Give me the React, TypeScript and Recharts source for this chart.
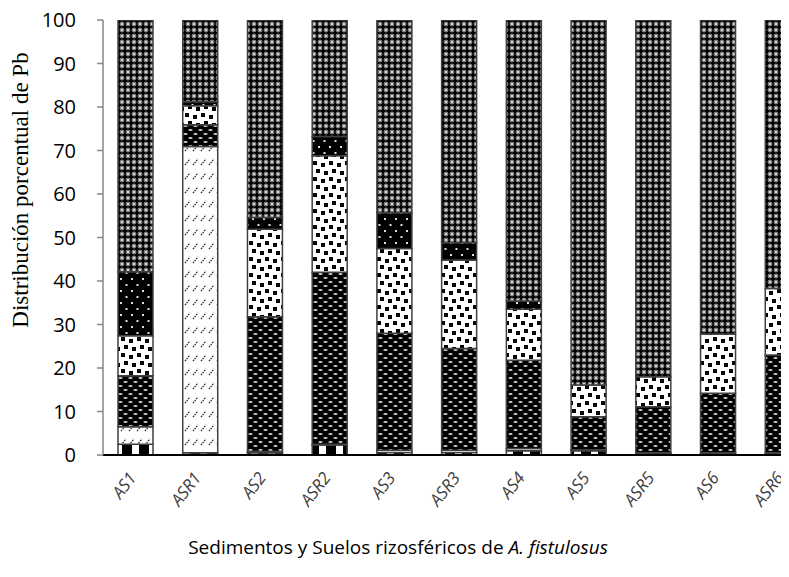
import React from 'react';
import { BarChart, Bar, XAxis, YAxis } from 'recharts';

const categories = ['AS1', 'ASR1', 'AS2', 'ASR2', 'AS3', 'ASR3', 'AS4', 'AS5', 'ASR5', 'AS6', 'ASR6'];

// fractions from bottom to top of each bar (%)
const fraccion1 = [2.5, 0.5, 0.5, 2.3, 0.6, 0.6, 1.0, 1.0, 0.3, 0.3, 0.3];
const fraccion2 = [4.0, 70.4, 0.3, 0.2, 0.5, 0.5, 0.5, 0.2, 0.2, 0.2, 0.2];
const fraccion3 = [11.7, 5.0, 31.0, 39.5, 26.9, 23.4, 20.3, 7.6, 10.6, 13.7, 22.5];
const fraccion4 = [9.2, 4.4, 20.1, 26.8, 19.5, 20.3, 11.7, 7.3, 6.9, 13.6, 15.3];
const fraccion5 = [14.7, 0.9, 2.7, 4.4, 8.2, 4.0, 1.9, 0, 0, 0, 0];
const fraccion6 = [57.9, 18.8, 45.4, 26.8, 44.3, 51.2, 64.6, 83.9, 82.0, 72.2, 61.7];

const yTicks = [0, 10, 20, 30, 40, 50, 60, 70, 80, 90, 100];

const data = categories.map((name, i) => ({
  name,
  f1: fraccion1[i],
  f2: fraccion2[i],
  f3: fraccion3[i],
  f4: fraccion4[i],
  f5: fraccion5[i],
  f6: fraccion6[i],
}));

const XTick = (props: any) => {
  const { x, y, payload } = props;
  return (
    <g transform={`translate(${x + 2},${y + 15})`}>
      <text
        textAnchor="end"
        transform="rotate(-52)"
        fontFamily="Open Sans"
        fontStyle="italic"
        fontSize={17}
        fill="#404040"
      >
        {payload.value}
      </text>
    </g>
  );
};

const YTick = (props: any) => {
  const { y, payload } = props;
  return (
    <text x={68} y={y} dy="0.36em" textAnchor="end" fontFamily="Open Sans" fontSize={20} fill="#000">
      {payload.value}
    </text>
  );
};

const YLabel = () => (
  <text
    x={0}
    y={0}
    transform="translate(20,190) rotate(-90)"
    textAnchor="middle"
    fontFamily="Liberation Serif"
    fontSize={23}
    fill="#000"
  >
    Distribución porcentual de Pb
  </text>
);

export default function App() {
  const barProps = {
    stackId: 'a',
    stroke: '#404040',
    strokeWidth: 1.5,
    isAnimationActive: false,
  };
  return (
    <div style={{ width: 781, height: 577, marginTop: -8, overflow: 'hidden', position: 'relative' }}>
      <BarChart
        width={822}
        height={573}
        data={data}
        margin={{ top: 20, right: 15, bottom: 0, left: 0 }}
        barSize={35}
      >
        <defs>
          <pattern id="p6" width="6" height="6" patternUnits="userSpaceOnUse">
            <rect width="6" height="6" fill="#7a7a7a" />
            <rect x="2" y="0.3" width="2" height="5.4" fill="#000" />
            <rect x="0.3" y="2" width="5.4" height="2" fill="#000" />
            <circle cx="0" cy="0" r="1" fill="#eee" />
            <circle cx="6" cy="0" r="1" fill="#eee" />
            <circle cx="0" cy="6" r="1" fill="#eee" />
            <circle cx="6" cy="6" r="1" fill="#eee" />
          </pattern>
          <pattern id="p5" width="11" height="12" patternUnits="userSpaceOnUse">
            <rect width="11" height="12" fill="#000" />
            <rect x="2" y="2" width="2" height="2" fill="#ddd" />
            <rect x="7.5" y="8" width="2" height="2" fill="#ddd" />
          </pattern>
          <pattern id="p4" width="16" height="16" patternUnits="userSpaceOnUse">
            <rect width="16" height="16" fill="#fff" />
            <rect x="1" y="1" width="4" height="4" fill="#000" />
            <rect x="9" y="3" width="4" height="4" fill="#000" />
            <rect x="4" y="9" width="4" height="4" fill="#000" />
            <rect x="12" y="11" width="4" height="4" fill="#000" />
          </pattern>
          <pattern id="p3" width="10" height="8" patternUnits="userSpaceOnUse">
            <rect width="10" height="8" fill="#000" />
            <ellipse cx="2.5" cy="2" rx="2.2" ry="0.9" fill="#ccc" />
            <ellipse cx="7.5" cy="6" rx="2.2" ry="0.9" fill="#ccc" />
          </pattern>
          <pattern id="p2" width="8" height="14" patternUnits="userSpaceOnUse">
            <rect width="8" height="14" fill="#fff" />
            <line x1="1" y1="11" x2="6" y2="5" stroke="#333" strokeWidth="1.4" strokeDasharray="1.5 1" />
          </pattern>
          <pattern id="p1" width="17" height="10" patternUnits="userSpaceOnUse">
            <rect width="17" height="10" fill="#000" />
            <rect x="5" y="0" width="7" height="10" fill="#fff" />
          </pattern>
        </defs>
        <XAxis
          dataKey="name"
          axisLine={{ stroke: '#000', strokeWidth: 2 }}
          tickLine={false}
          tick={<XTick />}
          height={118}
          interval={0}
          label={{
            content: () => (
              <text x={390} y={554} textAnchor="middle" fontFamily="Open Sans" fontSize={19} fill="#000">
                Sedimentos y Suelos rizosféricos de <tspan fontStyle="italic">A. fistulosus</tspan>
              </text>
            ),
          } as any}
        />
        <YAxis
          domain={[0, 100]}
          ticks={yTicks}
          width={95}
          interval={0}
          allowDataOverflow
          axisLine={{ stroke: '#868686', strokeWidth: 1.5 }}
          tickLine={{ stroke: '#868686', strokeWidth: 1.5 }}
          tickSize={6}
          tick={<YTick />}
          label={{ content: <YLabel /> } as any}
        />
        <Bar dataKey="f1" fill="url(#p1)" {...barProps} />
        <Bar dataKey="f2" fill="url(#p2)" {...barProps} />
        <Bar dataKey="f3" fill="url(#p3)" {...barProps} />
        <Bar dataKey="f4" fill="url(#p4)" {...barProps} />
        <Bar dataKey="f5" fill="url(#p5)" {...barProps} />
        <Bar dataKey="f6" fill="url(#p6)" {...barProps} />
      </BarChart>
    </div>
  );
}
